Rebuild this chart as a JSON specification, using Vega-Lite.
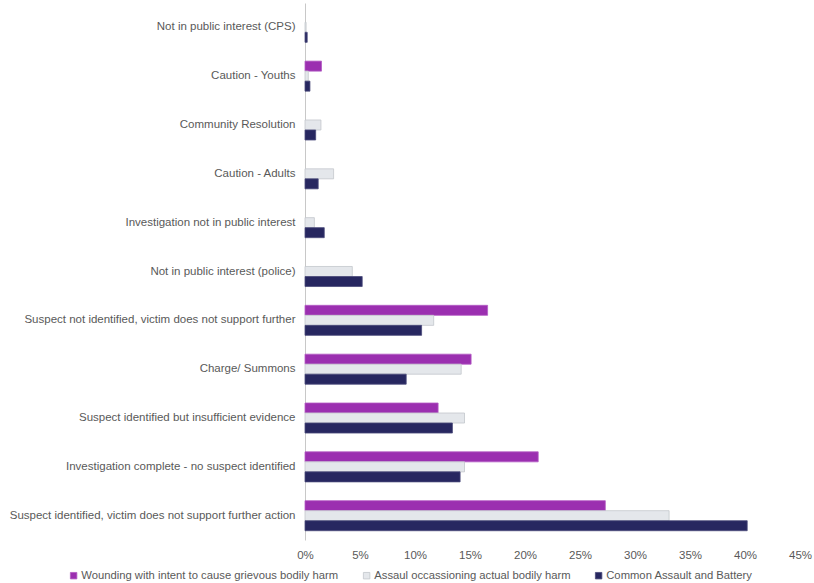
{
  "$schema": "https://vega.github.io/schema/vega-lite/v6.json",
  "width": 495,
  "height": 537,
  "autosize": "none",
  "padding": {"left": 305, "top": 3, "right": 14, "bottom": 43},
  "background": "white",
  "config": {"view": {"stroke": null}, "font": "Liberation Sans"},
  "data": {
    "values": [
      {"cat": "Not in public interest (CPS)", "series": "Assaul occassioning actual bodily harm", "o": 2, "v": 0.1},
      {"cat": "Not in public interest (CPS)", "series": "Common Assault and Battery", "o": 3, "v": 0.2},
      {"cat": "Caution - Youths", "series": "Wounding with intent to cause grievous bodily harm", "o": 1, "v": 1.5},
      {"cat": "Caution - Youths", "series": "Assaul occassioning actual bodily harm", "o": 2, "v": 0.3},
      {"cat": "Caution - Youths", "series": "Common Assault and Battery", "o": 3, "v": 0.45},
      {"cat": "Community Resolution", "series": "Assaul occassioning actual bodily harm", "o": 2, "v": 1.45},
      {"cat": "Community Resolution", "series": "Common Assault and Battery", "o": 3, "v": 0.97},
      {"cat": "Caution - Adults", "series": "Assaul occassioning actual bodily harm", "o": 2, "v": 2.6},
      {"cat": "Caution - Adults", "series": "Common Assault and Battery", "o": 3, "v": 1.2},
      {"cat": "Investigation not in public interest", "series": "Assaul occassioning actual bodily harm", "o": 2, "v": 0.85},
      {"cat": "Investigation not in public interest", "series": "Common Assault and Battery", "o": 3, "v": 1.75},
      {"cat": "Not in public interest (police)", "series": "Assaul occassioning actual bodily harm", "o": 2, "v": 4.3},
      {"cat": "Not in public interest (police)", "series": "Common Assault and Battery", "o": 3, "v": 5.2},
      {"cat": "Suspect not identified, victim does not support further", "series": "Wounding with intent to cause grievous bodily harm", "o": 1, "v": 16.6},
      {"cat": "Suspect not identified, victim does not support further", "series": "Assaul occassioning actual bodily harm", "o": 2, "v": 11.7},
      {"cat": "Suspect not identified, victim does not support further", "series": "Common Assault and Battery", "o": 3, "v": 10.6},
      {"cat": "Charge/ Summons", "series": "Wounding with intent to cause grievous bodily harm", "o": 1, "v": 15.1},
      {"cat": "Charge/ Summons", "series": "Assaul occassioning actual bodily harm", "o": 2, "v": 14.2},
      {"cat": "Charge/ Summons", "series": "Common Assault and Battery", "o": 3, "v": 9.2},
      {"cat": "Suspect identified but insufficient evidence", "series": "Wounding with intent to cause grievous bodily harm", "o": 1, "v": 12.1},
      {"cat": "Suspect identified but insufficient evidence", "series": "Assaul occassioning actual bodily harm", "o": 2, "v": 14.5},
      {"cat": "Suspect identified but insufficient evidence", "series": "Common Assault and Battery", "o": 3, "v": 13.4},
      {"cat": "Investigation complete - no suspect identified", "series": "Wounding with intent to cause grievous bodily harm", "o": 1, "v": 21.2},
      {"cat": "Investigation complete - no suspect identified", "series": "Assaul occassioning actual bodily harm", "o": 2, "v": 14.5},
      {"cat": "Investigation complete - no suspect identified", "series": "Common Assault and Battery", "o": 3, "v": 14.1},
      {"cat": "Suspect identified, victim does not support further action", "series": "Wounding with intent to cause grievous bodily harm", "o": 1, "v": 27.3},
      {"cat": "Suspect identified, victim does not support further action", "series": "Assaul occassioning actual bodily harm", "o": 2, "v": 33.1},
      {"cat": "Suspect identified, victim does not support further action", "series": "Common Assault and Battery", "o": 3, "v": 40.2}
    ]
  },
  "mark": {"type": "bar", "strokeWidth": 0.8},
  "encoding": {
    "y": {
      "field": "cat",
      "type": "nominal",
      "sort": null,
      "scale": {"paddingInner": 0.385, "paddingOuter": 0.19},
      "axis": {
        "title": null,
        "ticks": false,
        "domainColor": "#c8c8c8",
        "domainWidth": 1,
        "labelColor": "#595959",
        "labelFontSize": 11.5,
        "labelPadding": 10,
        "labelLimit": 400
      }
    },
    "yOffset": {"field": "o", "type": "ordinal", "scale": {"domain": [1, 2, 3], "paddingInner": 0, "paddingOuter": 0}},
    "x": {
      "field": "v",
      "type": "quantitative",
      "scale": {"domain": [0, 45]},
      "axis": {
        "title": null,
        "values": [0, 5, 10, 15, 20, 25, 30, 35, 40, 45],
        "labelExpr": "datum.value + '%'",
        "labelFlush": false,
        "grid": false,
        "domain": false,
        "ticks": false,
        "labelColor": "#595959",
        "labelFontSize": 11.5,
        "labelPadding": 9
      }
    },
    "color": {
      "field": "series",
      "type": "nominal",
      "scale": {
        "domain": ["Wounding with intent to cause grievous bodily harm", "Assaul occassioning actual bodily harm", "Common Assault and Battery"],
        "range": ["#9b2fb0", "#e4e7eb", "#272760"]
      },
      "legend": {
        "title": null,
        "orient": "none",
        "direction": "horizontal",
        "legendX": -237,
        "legendY": 567,
        "symbolType": "square",
        "symbolSize": 42,
        "symbolStrokeWidth": 0.8,
        "labelFontSize": 11.25,
        "labelColor": "#595959",
        "labelLimit": 400,
        "labelOffset": 2,
        "columnPadding": 22
      }
    },
    "stroke": {
      "field": "series",
      "type": "nominal",
      "scale": {
        "domain": ["Wounding with intent to cause grievous bodily harm", "Assaul occassioning actual bodily harm", "Common Assault and Battery"],
        "range": ["#b45cc4", "#c3c7cc", "#4a4a7a"]
      },
      "legend": null
    }
  }
}
